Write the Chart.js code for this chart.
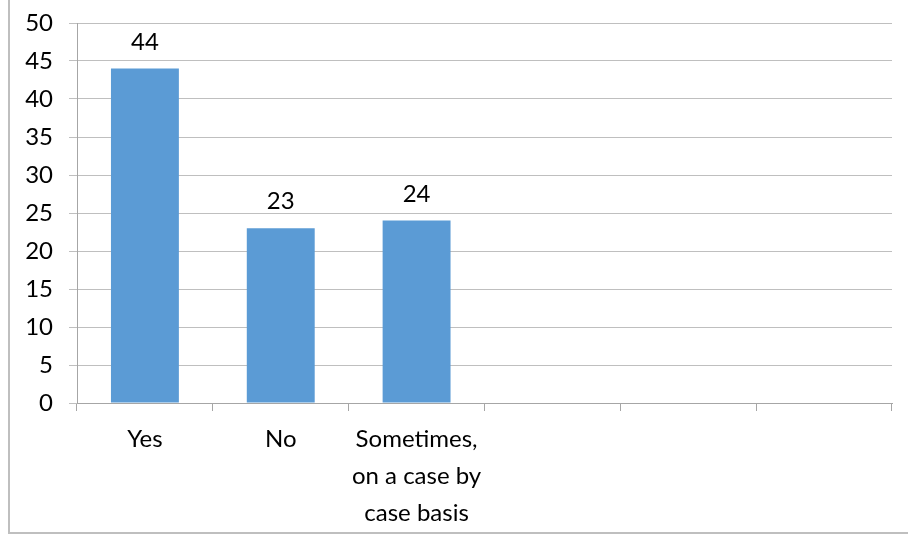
<!DOCTYPE html>
<html>
<head>
<meta charset="utf-8">
<script src="https://cdn.jsdelivr.net/npm/chart.js@4/dist/chart.umd.min.js"></script>
<style>
  html, body { margin: 0; padding: 0; background: #fff; }
  #wrap { position: relative; width: 908px; height: 540px; overflow: hidden; }
  #frame { position: absolute; left: 8px; top: -10px; width: 920px; height: 544px;
           border-left: 2px solid #bfbfbf; border-bottom: 2px solid #bfbfbf; box-sizing: border-box; }
  canvas { position: absolute; left: 0; top: 0; }
</style>
</head>
<body>
<div id="wrap">
  <div id="frame"></div>
  <canvas id="c" width="908" height="540"></canvas>
</div>
<script>
// Answers per option; the three trailing slots are empty categories
const categories = ['Yes', 'No', ['Sometimes,', 'on a case by', 'case basis'], '', '', ''];
const counts = [44, 23, 24, null, null, null];
const yTicks = [0, 5, 10, 15, 20, 25, 30, 35, 40, 45, 50];

const FONT = 'Lato, "Open Sans", sans-serif';
const FONT_SIZE = 24;

// Value printed above each bar
const valueLabels = {
  id: 'valueLabels',
  afterDatasetsDraw(chart) {
    const ctx = chart.ctx;
    const meta = chart.getDatasetMeta(0);
    ctx.save();
    ctx.font = FONT_SIZE + 'px ' + FONT;
    ctx.fillStyle = '#000';
    ctx.textAlign = 'center';
    ctx.textBaseline = 'alphabetic';
    meta.data.forEach((bar, i) => {
      const v = counts[i];
      if (v === null || v === undefined) return;
      ctx.fillText(String(v), bar.x, bar.y - 19);
    });
    ctx.restore();
  }
};

new Chart(document.getElementById('c'), {
  type: 'bar',
  data: {
    labels: categories,
    datasets: [{
      data: counts,
      backgroundColor: '#5B9BD5',
      borderWidth: 0,
      barPercentage: 0.5,
      categoryPercentage: 1.0
    }]
  },
  options: {
    responsive: false,
    animation: false,
    layout: { padding: { top: 23, right: 16, left: 0, bottom: 0 } },
    plugins: { legend: { display: false }, tooltip: { enabled: false } },
    scales: {
      x: {
        offset: true,
        grid: { display: true, drawOnChartArea: false, drawTicks: true, tickLength: 8, color: '#a6a6a6', offset: true },
        border: { display: true, color: '#a6a6a6', width: 1 },
        ticks: { color: '#000', font: { family: FONT, size: FONT_SIZE, lineHeight: 1.54 }, padding: 10, maxRotation: 0, autoSkip: false },
        afterFit(scale) { scale.height = 137; scale.paddingLeft = 0; scale.paddingRight = 0; }
      },
      y: {
        min: 0, max: 50,
        afterBuildTicks(scale) { scale.ticks = yTicks.map(v => ({ value: v })); },
        grid: { color: '#bfbfbf', tickLength: 8, drawTicks: true },
        border: { display: true, color: '#a6a6a6', width: 1 },
        ticks: { color: '#000', font: { family: FONT, size: FONT_SIZE }, padding: 16 },
        afterFit(scale) { scale.width = 77; scale.paddingTop = 0; scale.paddingBottom = 0; }
      }
    }
  },
  plugins: [valueLabels]
});
</script>
</body>
</html>
